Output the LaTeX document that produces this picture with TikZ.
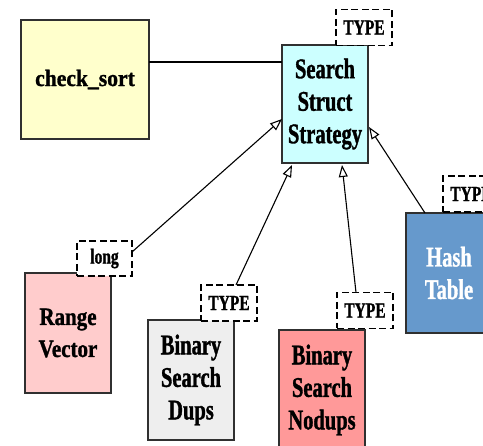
\documentclass[tikz,border=0pt]{standalone}
\usepackage{fontspec}
\setmainfont{Liberation Serif}
\newfontfamily\condfont[FakeStretch=0.72, FakeBold=1.2]{Liberation Serif}
\newfontfamily\midfont[FakeStretch=0.84, FakeBold=1.2]{Liberation Serif}
\newfontfamily\widefont[FakeStretch=0.92, FakeBold=1.2]{Liberation Serif}
\usetikzlibrary{arrows.meta}
\definecolor{cyellow}{HTML}{FFFFCC}
\definecolor{ccyan}{HTML}{CCFFFF}
\definecolor{cpink}{HTML}{FFCCCC}
\definecolor{cgray}{HTML}{EEEEEE}
\definecolor{csalmon}{HTML}{FF9999}
\definecolor{cblue}{HTML}{6699CC}
\definecolor{cedge}{HTML}{303030}
\tikzset{
  classbox/.style={draw=cedge, line width=1.6pt, inner sep=0pt, outer sep=0pt,
    align=center, minimum width=86pt, minimum height=120pt,
    font=\condfont\fontsize{28.5}{32.5}\selectfont\bfseries},
  parambox/.style={draw=black, fill=white, dash pattern=on 7pt off 3.5pt,
    line width=1.4pt, inner sep=0pt, outer sep=0pt, minimum width=56pt,
    minimum height=36pt, font=\condfont\fontsize{21.5}{24}\selectfont\bfseries},
  inherits/.style={line width=1.1pt, -{Triangle[open, length=12pt, width=9pt]}},
  assoc/.style={line width=1.1pt}
}
\begin{document}
\begin{tikzpicture}[x=1pt, y=-1pt]
\useasboundingbox (0,0) rectangle (483,446);
\clip (0,0) rectangle (483,446);

% classes
\node[classbox, fill=cyellow, minimum width=128pt, minimum height=119pt,
  font=\widefont\fontsize{23.5}{28}\selectfont\bfseries] (check) at (85,79.5) {check\_sort};
\node[classbox, fill=ccyan, minimum height=118pt] (strat) at (325,104) {Search\\Struct\\Strategy};
\node[classbox, fill=cpink, font=\midfont\fontsize{25}{32}\selectfont\bfseries] (range) at (68,333) {Range\\Vector};
\node[classbox, fill=cgray] (dups) at (191,380) {Binary\\Search\\Dups};
\node[classbox, fill=csalmon] (nodups) at (322,390) {Binary\\Search\\Nodups};
\node[classbox, fill=cblue, text=white] (hash) at (449,273) {Hash\\Table};

% template parameters
\node[parambox] (tstrat) at (364,27.5) {TYPE};
\node[parambox, minimum width=55pt, minimum height=35pt] (tlong) at (104.5,258.5) {long};
\node[parambox] (tdups) at (229,303) {TYPE};
\node[parambox] (tnodups) at (365,310.5) {TYPE};
\node[parambox] (thash) at (471,194) {TYPE};

% association
\draw[assoc] ([yshift=17.5pt]check.east) -- ([yshift=17.5pt]check.east -| strat.west);

% generalisations
\draw[inherits] ([yshift=6.5pt]tlong.east) -- ([yshift=-15pt]strat.west);
\draw[inherits] ([xshift=7pt]tdups.north) -- ([xshift=-33pt, yshift=-2pt]strat.south);
\draw[inherits] ([xshift=-9pt]tnodups.north) -- ([xshift=17pt, yshift=-2pt]strat.south);
\draw[inherits] ([xshift=-24pt]hash.north) -- ([xshift=1pt, yshift=-23pt]strat.east);
\end{tikzpicture}
\end{document}
